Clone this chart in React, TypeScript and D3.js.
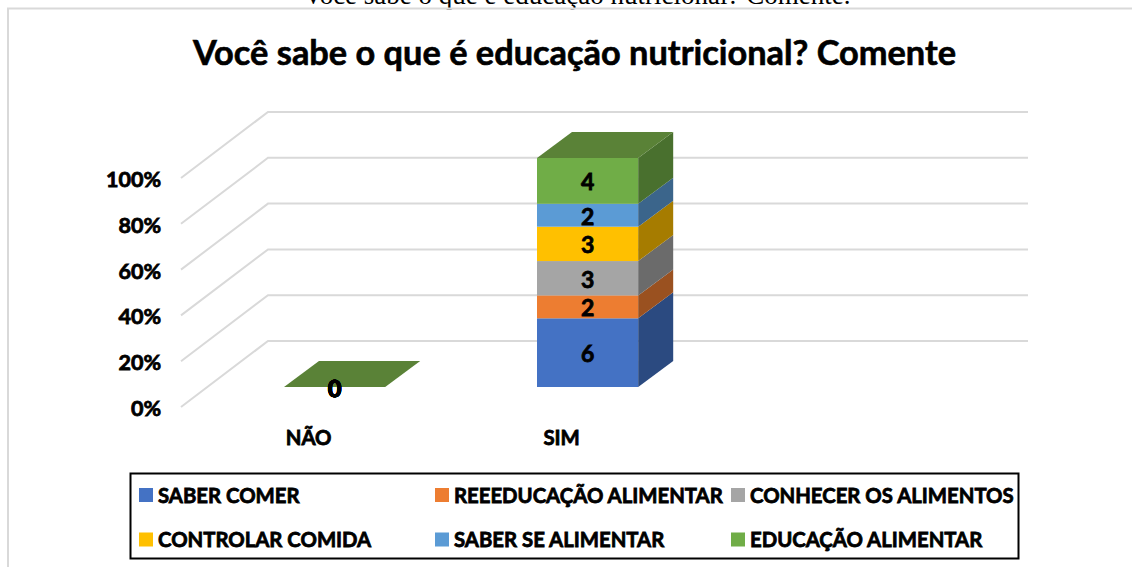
import React from "react";
import * as d3 from "d3";

const categories = ["NÃO", "SIM"];
const seriesNames = ["SABER COMER", "REEEDUCAÇÃO ALIMENTAR", "CONHECER OS ALIMENTOS", "CONTROLAR COMIDA", "SABER SE ALIMENTAR", "EDUCAÇÃO ALIMENTAR"];
const saberComer = [0, 6];
const reeducacao = [0, 2];
const conhecer = [0, 3];
const controlar = [0, 3];
const saberSe = [0, 2];
const educacao = [0, 4];
const seriesValues = [saberComer, reeducacao, conhecer, controlar, saberSe, educacao];
const frontColors = ["#4472c4", "#ed7d31", "#a5a5a5", "#ffc000", "#5b9bd5", "#70ad47"];
const sideColors = ["#2b4a80", "#9a5120", "#6b6b6b", "#a67c00", "#3b658b", "#49702e"];
const topColor = "#5a8237";
const yTicks = [0, 0.2, 0.4, 0.6, 0.8, 1];

const W = 1132, H = 567;
const FONT = "Lato, Carlito, sans-serif";
const wallLeft = 268, wallRight = 1028;
const floorDx = 87, floorDy = 66;
const barDx = 35, barDy = 26, barFrontDrop = 46;
const narrow = 0.946;

const yWall = d3.scaleLinear().domain([0, 1]).range([341, 112]);
const x = d3.scaleBand<string>().domain(categories).range([182.8, 739.4]).paddingInner(0.6).paddingOuter(0.4);

const rows = categories.map((c, i) => {
  const r: Record<string, number | string> = { c };
  seriesNames.forEach((s, k) => (r[s] = seriesValues[k][i]));
  return r;
});
const stacked = d3.stack<any>().keys(seriesNames).offset(d3.stackOffsetExpand)(rows);

const poly = (pts: [number, number][]) => d3.line()(pts) + "Z";
const boldText = { fontFamily: FONT, fontWeight: 700, fill: "#000", stroke: "#000", strokeWidth: 0.8 } as const;

export default function App() {
  const bw = x.bandwidth();
  return (
    <svg width={W} height={H} viewBox={`0 0 ${W} ${H}`} style={{ position: "fixed", left: 0, top: 0, background: "#fff" }}>
      <text x={577} y={4} textAnchor="middle" fontFamily="'Liberation Serif', serif" fontSize={27} fill="#000">
        Você sabe o que é educação nutricional? Comente.
      </text>
      <rect x={8} y={9.5} width={1124} height={558} fill="#fff" />
      <path d={`M8 567V8.500H1132`} fill="none" stroke="#d9d9d9" strokeWidth={2} />
      <text x={574.500} y={65} textAnchor="middle" fontSize={33.500} textLength={763} lengthAdjust="spacingAndGlyphs" {...boldText} strokeWidth={0.6}>
        Você sabe o que é educação nutricional? Comente
      </text>

      {yTicks.map((t) => {
        const yb = yWall(t);
        return (
          <g key={t}>
            <path d={`M${wallLeft - floorDx} ${yb + floorDy}L${wallLeft} ${yb}H${wallRight}`} fill="none" stroke="#d9d9d9" strokeWidth={2} />
            <text x={161} y={yb + floorDy + 9} textAnchor="end" fontSize={21.500} {...boldText}>
              {d3.format(".0%")(t)}
            </text>
          </g>
        );
      })}

      {categories.map((c, ci) => {
        const x0 = x(c)!;
        const x1 = x0 + bw;
        return (
          <g key={c}>
            {stacked.map((s, k) => {
              const yA = yWall(s[ci][0]) + barFrontDrop;
              const yB = yWall(s[ci][1]) + barFrontDrop;
              return (
                <g key={k}>
                  <rect x={x0} y={yB} width={bw} height={yA - yB} fill={frontColors[k]} />
                  <path d={poly([[x1, yA], [x1 + barDx, yA - barDy], [x1 + barDx, yB - barDy], [x1, yB]])} fill={sideColors[k]} />
                </g>
              );
            })}
            {(() => {
              const yT = yWall(stacked[stacked.length - 1][ci][1]) + barFrontDrop;
              return <path d={poly([[x0, yT], [x0 + barDx, yT - barDy], [x1 + barDx, yT - barDy], [x1, yT]])} fill={topColor} />;
            })()}
            {stacked.map((s, k) => {
              const yM = (yWall(s[ci][0]) + yWall(s[ci][1])) / 2 + barFrontDrop;
              return (
                <text key={k} x={x0 + bw / 2} y={yM + 9.500} textAnchor="middle" fontSize={23} {...boldText}>
                  {seriesValues[k][ci]}
                </text>
              );
            })}
            <text transform={`translate(${x0 + bw / 2 - 26} 445) scale(${narrow} 1)`} textAnchor="middle" fontSize={21.500} {...boldText}>
              {c}
            </text>
          </g>
        );
      })}

      <rect x={130.500} y={473.500} width={888} height={85} fill="#fff" stroke="#000" strokeWidth={2} />
      {seriesNames.map((s, k) => {
        const col = k % 3;
        const row = Math.floor(k / 3);
        const sx = [139, 435, 731][col];
        const sy = [488, 532.500][row];
        return (
          <g key={s}>
            <rect x={sx} y={sy} width={14} height={14} fill={frontColors[k]} />
            <text transform={`translate(${sx + 19} ${sy + 14.500}) scale(${narrow} 1)`} fontSize={21.500} {...boldText}>
              {s}
            </text>
          </g>
        );
      })}
    </svg>
  );
}
